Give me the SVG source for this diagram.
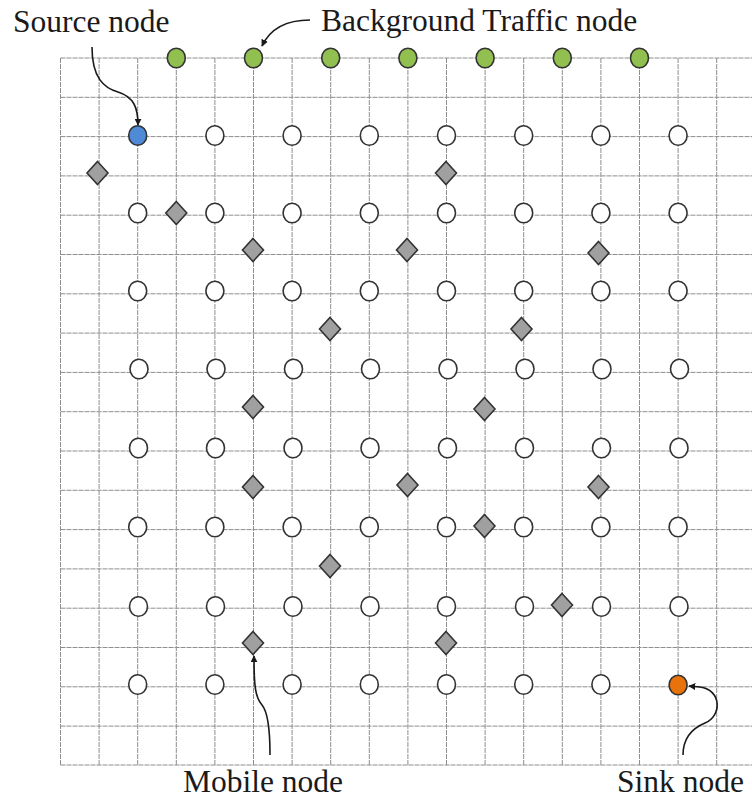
<svg xmlns="http://www.w3.org/2000/svg" width="752" height="798" viewBox="0 0 752 798">
<defs>
<style>
.grid line{stroke:#8e8e8e;stroke-width:1;stroke-dasharray:5 1}
.n{fill:#ffffff;stroke:#333;stroke-width:1.6}
.src{fill:#4f8ad6;stroke:#333;stroke-width:1.6}
.sink{fill:#e8720c;stroke:#333;stroke-width:1.6}
.bg{fill:#92c050;stroke:#333;stroke-width:1.6}
.m{fill:#a0a0a0;stroke:#333;stroke-width:1.6}
.arr{fill:none;stroke:#1a1a1a;stroke-width:1.6;marker-end:url(#ah)}
</style>
<marker id="ah" viewBox="0 0 10 10" refX="9" refY="5" markerWidth="7" markerHeight="7" markerUnits="userSpaceOnUse" orient="auto">
<path d="M0,0 L10,5 L0,10 z" fill="#1a1a1a"/>
</marker>
<ellipse id="c" cx="0" cy="0" rx="9" ry="9.8"/>
<path id="d" d="M0,-11.5 L10.5,0 L0,11.5 L-10.5,0 z"/>
</defs>
<rect width="752" height="798" fill="#ffffff"/>
<g class="grid">
<line x1="60.5" y1="58" x2="60.5" y2="765"/>
<line x1="99.1" y1="58" x2="99.1" y2="765"/>
<line x1="137.7" y1="58" x2="137.7" y2="765"/>
<line x1="176.3" y1="58" x2="176.3" y2="765"/>
<line x1="214.9" y1="58" x2="214.9" y2="765"/>
<line x1="253.5" y1="58" x2="253.5" y2="765"/>
<line x1="292.1" y1="58" x2="292.1" y2="765"/>
<line x1="330.7" y1="58" x2="330.7" y2="765"/>
<line x1="369.3" y1="58" x2="369.3" y2="765"/>
<line x1="407.9" y1="58" x2="407.9" y2="765"/>
<line x1="446.5" y1="58" x2="446.5" y2="765"/>
<line x1="485.1" y1="58" x2="485.1" y2="765"/>
<line x1="523.7" y1="58" x2="523.7" y2="765"/>
<line x1="562.3" y1="58" x2="562.3" y2="765"/>
<line x1="600.9" y1="58" x2="600.9" y2="765"/>
<line x1="639.5" y1="58" x2="639.5" y2="765"/>
<line x1="678.1" y1="58" x2="678.1" y2="765"/>
<line x1="716.7" y1="58" x2="716.7" y2="765"/>
<line x1="60.5" y1="58" x2="752" y2="58"/>
<line x1="60.5" y1="97.3" x2="752" y2="97.3"/>
<line x1="60.5" y1="136.6" x2="752" y2="136.6"/>
<line x1="60.5" y1="175.9" x2="752" y2="175.9"/>
<line x1="60.5" y1="215.2" x2="752" y2="215.2"/>
<line x1="60.5" y1="254.5" x2="752" y2="254.5"/>
<line x1="60.5" y1="293.8" x2="752" y2="293.8"/>
<line x1="60.5" y1="333.1" x2="752" y2="333.1"/>
<line x1="60.5" y1="372.4" x2="752" y2="372.4"/>
<line x1="60.5" y1="411.7" x2="752" y2="411.7"/>
<line x1="60.5" y1="451" x2="752" y2="451"/>
<line x1="60.5" y1="490.3" x2="752" y2="490.3"/>
<line x1="60.5" y1="529.6" x2="752" y2="529.6"/>
<line x1="60.5" y1="568.9" x2="752" y2="568.9"/>
<line x1="60.5" y1="608.2" x2="752" y2="608.2"/>
<line x1="60.5" y1="647.5" x2="752" y2="647.5"/>
<line x1="60.5" y1="686.8" x2="752" y2="686.8"/>
<line x1="60.5" y1="726.1" x2="752" y2="726.1"/>
<line x1="60.5" y1="765" x2="752" y2="765"/>
</g>
<g id="connectors">
<path class="arr" d="M92,47 C92,78 104,88 118,92 C134,97 138,108 138,125"/>
<path class="arr" d="M310,20 C285,20 270,29 262,46"/>
<path class="arr" d="M270,755 C270,730 268,712 262,705 C255,697 254,685 254,656"/>
<path class="arr" d="M683,755 C683,738 693,728 705,723 C722,716 722,690 700,687 L689,686"/>
</g>
<g id="background-traffic-nodes">
<use href="#c" class="bg" x="176.3" y="58"/>
<use href="#c" class="bg" x="253.5" y="58"/>
<use href="#c" class="bg" x="330.7" y="58"/>
<use href="#c" class="bg" x="407.9" y="58"/>
<use href="#c" class="bg" x="485.1" y="58"/>
<use href="#c" class="bg" x="562.3" y="58"/>
<use href="#c" class="bg" x="639.5" y="58"/>
</g>
<g id="source-node"><use href="#c" class="src" x="137.7" y="135.5"/></g>
<g id="sink-node"><use href="#c" class="sink" x="678.1" y="685"/></g>
<g id="static-nodes">
<use href="#c" class="n" x="214.9" y="135.5"/><use href="#c" class="n" x="292.1" y="135.5"/><use href="#c" class="n" x="369.3" y="135.5"/><use href="#c" class="n" x="446.5" y="135.5"/><use href="#c" class="n" x="523.7" y="135.5"/><use href="#c" class="n" x="600.9" y="135.5"/><use href="#c" class="n" x="678.1" y="135.5"/>
<use href="#c" class="n" x="137.7" y="213"/><use href="#c" class="n" x="214.9" y="213"/><use href="#c" class="n" x="292.1" y="213"/><use href="#c" class="n" x="369.3" y="213"/><use href="#c" class="n" x="446.5" y="213"/><use href="#c" class="n" x="523.7" y="213"/><use href="#c" class="n" x="600.9" y="213"/><use href="#c" class="n" x="678.1" y="213"/>
<use href="#c" class="n" x="137.7" y="291"/><use href="#c" class="n" x="214.9" y="291"/><use href="#c" class="n" x="292.1" y="291"/><use href="#c" class="n" x="369.3" y="291"/><use href="#c" class="n" x="446.5" y="291"/><use href="#c" class="n" x="523.7" y="291"/><use href="#c" class="n" x="600.9" y="291"/><use href="#c" class="n" x="678.1" y="291"/>
<use href="#c" class="n" x="139" y="369"/><use href="#c" class="n" x="216" y="369"/><use href="#c" class="n" x="293.5" y="369"/><use href="#c" class="n" x="370.5" y="369"/><use href="#c" class="n" x="448" y="369"/><use href="#c" class="n" x="525" y="369"/><use href="#c" class="n" x="602" y="369"/><use href="#c" class="n" x="679.5" y="369"/>
<use href="#c" class="n" x="138.5" y="448"/><use href="#c" class="n" x="215.5" y="448"/><use href="#c" class="n" x="293" y="448"/><use href="#c" class="n" x="370" y="448"/><use href="#c" class="n" x="447.5" y="448"/><use href="#c" class="n" x="524.5" y="448"/><use href="#c" class="n" x="601.5" y="448"/><use href="#c" class="n" x="679" y="448"/>
<use href="#c" class="n" x="137.7" y="527"/><use href="#c" class="n" x="214.9" y="527"/><use href="#c" class="n" x="292.1" y="527"/><use href="#c" class="n" x="369.3" y="527"/><use href="#c" class="n" x="446.5" y="527"/><use href="#c" class="n" x="523.7" y="527"/><use href="#c" class="n" x="600.9" y="527"/><use href="#c" class="n" x="678.1" y="527"/>
<use href="#c" class="n" x="138.5" y="606.5"/><use href="#c" class="n" x="215.5" y="606.5"/><use href="#c" class="n" x="293" y="606.5"/><use href="#c" class="n" x="370" y="606.5"/><use href="#c" class="n" x="446.5" y="606.5"/><use href="#c" class="n" x="524.5" y="606.5"/><use href="#c" class="n" x="601.5" y="606.5"/><use href="#c" class="n" x="679" y="606.5"/>
<use href="#c" class="n" x="137.7" y="684.5"/><use href="#c" class="n" x="214.9" y="684.5"/><use href="#c" class="n" x="292.1" y="684.5"/><use href="#c" class="n" x="369.3" y="684.5"/><use href="#c" class="n" x="446.5" y="684.5"/><use href="#c" class="n" x="523.7" y="684.5"/><use href="#c" class="n" x="600.9" y="684.5"/>
</g>
<g id="mobile-nodes">
<use href="#d" class="m" x="97.5" y="173"/>
<use href="#d" class="m" x="446" y="173"/>
<use href="#d" class="m" x="176.3" y="213"/>
<use href="#d" class="m" x="253" y="250"/>
<use href="#d" class="m" x="407" y="250"/>
<use href="#d" class="m" x="598.5" y="253"/>
<use href="#d" class="m" x="330" y="329"/>
<use href="#d" class="m" x="521.5" y="329"/>
<use href="#d" class="m" x="253" y="407"/>
<use href="#d" class="m" x="484.5" y="409"/>
<use href="#d" class="m" x="253" y="487"/>
<use href="#d" class="m" x="407.5" y="485"/>
<use href="#d" class="m" x="598.5" y="487"/>
<use href="#d" class="m" x="484.5" y="526"/>
<use href="#d" class="m" x="330" y="566"/>
<use href="#d" class="m" x="562" y="605"/>
<use href="#d" class="m" x="253" y="643"/>
<use href="#d" class="m" x="446" y="643"/>
</g>
<g id="labels" font-family="'Liberation Serif', 'Times New Roman', 'DejaVu Serif', serif" font-size="31.5" fill="#1a1a1a">
<text x="13" y="32">Source node</text>
<text x="321" y="31">Background Traffic node</text>
<text x="183" y="792">Mobile node</text>
<text x="617" y="792">Sink node</text>
</g>
</svg>
